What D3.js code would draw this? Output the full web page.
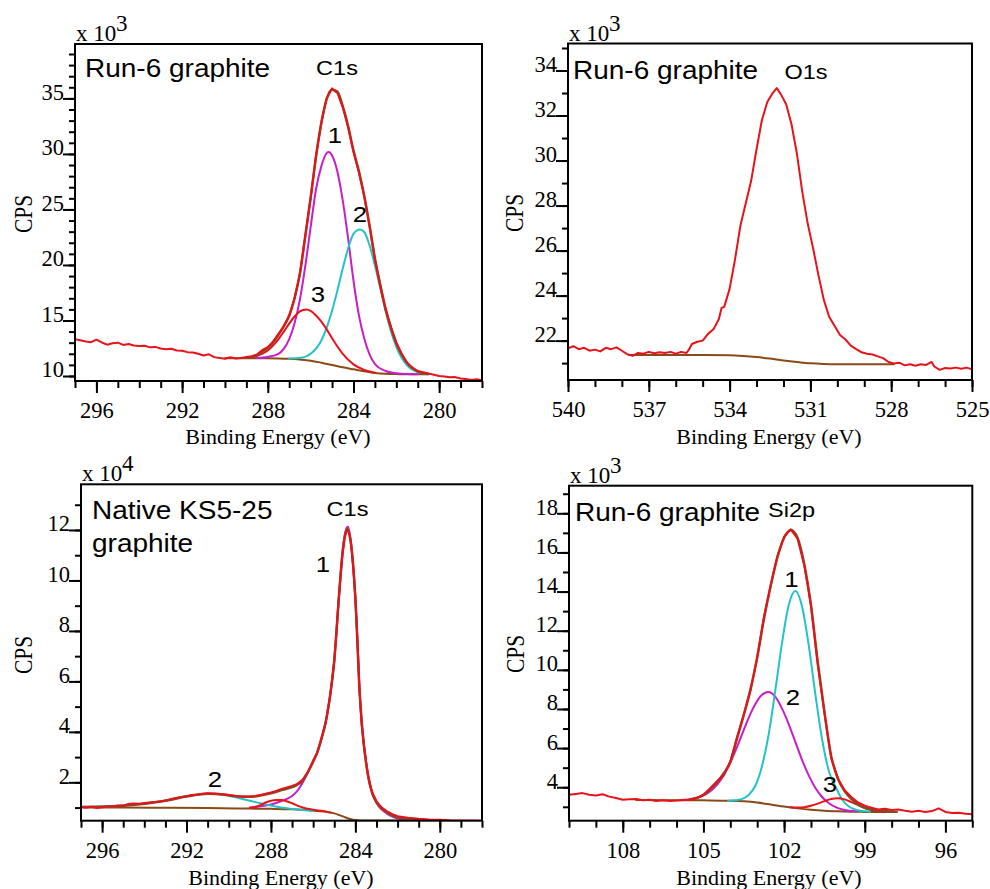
<!DOCTYPE html>
<html>
<head>
<meta charset="utf-8">
<script src="https://cdn.jsdelivr.net/npm/d3@7"></script>
<style>
  body { margin: 0; background: #fff; }
  svg { display: block; }
</style>
</head>
<body>
<div id="chart"></div>
<script>
// ---- data (CPS in units of the axis multiplier) ----
// Panel A: Run-6 graphite, C1s (x 10^3)
const c1sRunRaw = [[297.0,13.30],[296.75,13.22],[296.5,13.10],[296.25,13.05],[296.0,13.28],[295.75,13.02],[295.5,12.82],[295.25,12.95],[295.0,13.0],[294.75,12.8],[294.5,12.88],[294.25,12.75],[294.0,12.7],[293.75,12.72],[293.5,12.58],[293.25,12.62],[293.0,12.48],[292.75,12.4],[292.5,12.45],[292.25,12.3],[292.0,12.28],[291.75,12.15],[291.5,12.12],[291.25,12.0],[291.0,11.85],[290.75,11.95],[290.5,11.7],[290.25,11.62],[290.0,11.55],[289.75,11.7],[289.5,11.58],[289.25,11.62],[289.0,11.72],[288.75,11.78],[288.5,11.95],[288.25,12.35],[288.0,12.6],[287.75,13.1],[287.5,13.8],[287.25,14.5],[287.0,15.4],[286.75,17.0],[286.5,19.2],[286.25,22.6],[286.0,26.0],[285.75,29.8],[285.5,32.8],[285.25,35.0],[285.0,35.9],[284.9,35.7],[284.75,35.5],[284.5,34.2],[284.25,32.4],[284.0,30.2],[283.75,28.4],[283.5,26.2],[283.25,23.5],[283.0,20.5],[282.75,18.2],[282.5,16.0],[282.25,14.4],[282.0,13.0],[281.75,12.0],[281.5,11.2],[281.25,10.75],[281.0,10.45],[280.75,10.35],[280.5,10.22],[280.25,10.12],[280.0,10.0],[279.75,9.95],[279.5,9.88],[279.25,9.9],[279.0,9.78],[278.75,9.72],[278.5,9.65],[278.25,9.7],[278.0,9.62]];
const c1sRunEnv = [[289,11.64],[288.5,11.85],[288.25,12.2],[288,12.55],[287.75,13.05],[287.5,13.72],[287.25,14.5],[287,15.45],[286.75,17.0],[286.5,19.25],[286.25,22.6],[286,26.05],[285.75,29.75],[285.5,32.8],[285.25,34.95],[285,35.8],[284.75,35.6],[284.5,34.3],[284.25,32.5],[284,30.3],[283.75,28.45],[283.5,26.25],[283.25,23.55],[283,20.6],[282.75,18.2],[282.5,16.05],[282.25,14.35],[282,12.95],[281.75,11.95],[281.5,11.2],[281.25,10.72],[281,10.42],[280.75,10.25],[280.5,10.18]];
const c1sRunBg = [[290,11.59],[289,11.59],[288,11.59],[287.5,11.58],[287,11.55],[286.5,11.48],[286,11.38],[285.5,11.2],[285,10.99],[284.5,10.78],[284,10.6],[283.5,10.42],[283,10.28],[282.5,10.2],[282,10.17],[281.5,10.15],[281,10.15],[280.5,10.15]];
const c1sRunPeak1 = [[288.5,11.62],[288,11.72],[287.5,12.0],[287.25,12.47],[287,13.33],[286.75,14.75],[286.5,16.89],[286.25,19.9],[286,23.4],[285.75,26.8],[285.5,28.9],[285.25,30.07],[285.15,30.17],[285,29.85],[284.75,28.4],[284.5,25.8],[284.25,22.4],[284,18.6],[283.75,15.5],[283.5,13.4],[283.25,11.95],[283,11.08],[282.5,10.45],[282,10.25],[281.5,10.17],[281,10.15]];
const c1sRunPeak2 = [[287,11.58],[286.5,11.62],[286,12.0],[285.5,13.2],[285.25,14.35],[285,15.87],[284.75,17.71],[284.5,19.68],[284.25,21.49],[284,22.8],[283.7,23.2],[283.5,22.97],[283.25,21.78],[283,19.97],[282.75,17.89],[282.5,15.82],[282.25,14.03],[282,12.62],[281.5,10.95],[281,10.35],[280.5,10.19]];
const c1sRunPeak3 = [[289,11.64],[288.5,11.81],[288,12.3],[287.5,13.32],[287.25,14.0],[287,14.72],[286.75,15.36],[286.5,15.82],[286.2,16.0],[286,15.86],[285.75,15.45],[285.5,14.9],[285.25,14.2],[285,13.4],[284.5,12.0],[284,11.05],[283.5,10.55],[283,10.3]];

// Panel B: Run-6 graphite, O1s (x 10^3)
const o1sRaw = [[540.0,21.66],[539.8,21.75],[539.6,21.62],[539.4,21.68],[539.2,21.55],[539.0,21.6],[538.8,21.52],[538.6,21.68],[538.4,21.62],[538.2,21.7],[538.0,21.55],[537.8,21.4],[537.6,21.32],[537.4,21.45],[537.2,21.42],[537.0,21.5],[536.8,21.44],[536.6,21.48],[536.4,21.45],[536.2,21.5],[536.0,21.42],[535.8,21.5],[535.6,21.45],[535.5,21.62],[535.4,21.85],[535.2,21.95],[535.0,22.0],[534.8,22.3],[534.6,22.5],[534.4,22.95],[534.3,23.45],[534.2,23.5],[534.0,24.3],[533.8,25.6],[533.6,27.1],[533.4,28.1],[533.2,29.1],[533.0,30.5],[532.8,31.8],[532.6,32.6],[532.4,33.0],[532.25,33.22],[532.1,32.95],[531.9,32.5],[531.7,31.6],[531.5,30.3],[531.3,28.6],[531.1,27.2],[530.9,26.1],[530.7,24.9],[530.5,23.8],[530.3,23.05],[530.1,22.65],[529.9,22.25],[529.7,22.05],[529.5,21.78],[529.3,21.62],[529.1,21.48],[528.9,21.42],[528.7,21.38],[528.5,21.3],[528.3,21.22],[528.1,21.05],[527.9,20.98],[527.7,21.02],[527.5,20.9],[527.3,20.95],[527.1,20.88],[526.9,20.95],[526.7,20.92],[526.5,21.05],[526.4,20.85],[526.2,20.7],[526.0,20.78],[525.8,20.76],[525.6,20.8],[525.4,20.75],[525.2,20.8],[525.0,20.72]];
const o1sBg = [[537.75,21.36],[537,21.36],[536,21.36],[535,21.36],[534,21.35],[533.5,21.32],[533,21.27],[532.5,21.2],[532,21.12],[531.5,21.05],[531,20.99],[530.5,20.96],[530,20.95],[529,20.95],[528,20.95],[527.9,20.95]];

// Panel C: native KS5-25 graphite, C1s (x 10^4)
const c1sNatRaw = [[297.0,1.02],[296.75,1.0],[296.5,1.03],[296.25,0.98],[296.0,1.01],[295.75,1.04],[295.5,1.05],[295.25,1.08],[295.0,1.07],[294.75,1.14],[294.5,1.16],[294.25,1.15],[294.0,1.18],[293.75,1.2],[293.5,1.22],[293.25,1.24],[293.0,1.28],[292.75,1.33],[292.5,1.38],[292.25,1.42],[292.0,1.45],[291.75,1.5],[291.5,1.52],[291.25,1.55],[291.0,1.57],[290.75,1.56],[290.5,1.55],[290.25,1.53],[290.0,1.5],[289.75,1.47],[289.5,1.45],[289.25,1.44],[289.0,1.44],[288.75,1.46],[288.5,1.5],[288.25,1.55],[288.0,1.6],[287.75,1.66],[287.5,1.74],[287.25,1.8],[287.0,1.86],[286.75,1.94],[286.5,2.1],[286.25,2.42],[286.0,2.8],[285.8,3.2],[285.6,3.75],[285.4,4.4],[285.2,5.4],[285.0,6.8],[284.9,7.9],[284.8,9.1],[284.7,10.2],[284.6,11.1],[284.5,11.7],[284.4,12.0],[284.3,11.9],[284.2,11.4],[284.1,10.5],[284.0,9.3],[283.9,7.6],[283.8,5.6],[283.7,4.3],[283.6,3.5],[283.5,2.85],[283.4,2.3],[283.3,1.9],[283.2,1.6],[283.0,1.25],[282.75,1.0],[282.5,0.85],[282.25,0.74],[282.0,0.66],[281.5,0.6],[281.0,0.56],[280.5,0.53],[280.0,0.52],[279.5,0.5],[279.0,0.49],[278.5,0.49],[278.0,0.48]];
const c1sNatEnv = [[297,1.02],[295,1.07],[293,1.27],[292,1.44],[291,1.55],[290,1.49],[289.5,1.44],[289,1.43],[288.5,1.48],[288,1.57],[287.5,1.69],[287,1.81],[286.75,1.91],[286.5,2.07],[286.25,2.4],[286,2.84],[285.8,3.2],[285.6,3.76],[285.4,4.41],[285.2,5.42],[285,6.82],[284.8,9.12],[284.6,11.15],[284.4,12.05],[284.2,11.42],[284,9.3],[283.8,5.6],[283.6,3.5],[283.4,2.28],[283.2,1.57],[283,1.22],[282.5,0.82],[282,0.62],[281,0.53]];
const c1sNatBg = [[297,1.0],[295,1.0],[293,0.99],[291,0.98],[289,0.96],[288,0.95],[287,0.93],[286,0.88],[285.5,0.84],[285,0.77],[284.75,0.7],[284.5,0.62],[284.25,0.55],[284,0.51],[283.5,0.49],[282,0.49],[281,0.49]];
const c1sNatPeak1 = [[289,1.0],[288.5,1.05],[288,1.12],[287.5,1.26],[287,1.46],[286.75,1.66],[286.5,1.98],[286.25,2.4],[286,2.85],[285.8,3.2],[285.6,3.75],[285.4,4.4],[285.2,5.42],[285,6.82],[284.9,7.92],[284.8,9.12],[284.7,10.25],[284.6,11.2],[284.5,11.82],[284.4,12.1],[284.35,12.13],[284.3,12.0],[284.2,11.45],[284.1,10.5],[284,9.3],[283.9,7.6],[283.8,5.6],[283.7,4.3],[283.6,3.5],[283.5,2.85],[283.4,2.25],[283.3,1.85],[283.2,1.55],[283,1.18],[282.75,0.92],[282.5,0.76],[282.25,0.64],[282,0.57],[281.5,0.52],[281,0.5],[280.5,0.49]];
const c1sNatPeak2 = [[297,1.02],[296,1.03],[295,1.08],[294,1.16],[293,1.28],[292.5,1.37],[292,1.45],[291.5,1.51],[291,1.55],[290.5,1.54],[290,1.47],[289.5,1.37],[289,1.27],[288.5,1.17],[288,1.08],[287.5,1.0],[287,0.94],[286.5,0.9],[286,0.86]];
const c1sNatPeak3 = [[289,0.98],[288.75,1.02],[288.5,1.1],[288.25,1.2],[288,1.27],[287.75,1.3],[287.5,1.3],[287.25,1.25],[287,1.17],[286.75,1.08],[286.5,1.0],[286.25,0.95],[286,0.91],[285.5,0.86],[285.2,0.8]];

// Panel D: Run-6 graphite, Si2p (x 10^3)
const si2pRaw = [[110.0,3.61],[109.75,3.66],[109.5,3.7],[109.25,3.62],[109.0,3.58],[108.75,3.64],[108.5,3.52],[108.25,3.45],[108.0,3.36],[107.75,3.38],[107.5,3.4],[107.25,3.33],[107.0,3.36],[106.75,3.3],[106.5,3.33],[106.25,3.3],[106.0,3.32],[105.75,3.35],[105.5,3.36],[105.25,3.44],[105.0,3.62],[104.75,3.95],[104.5,4.3],[104.25,4.6],[104.0,5.3],[103.75,6.55],[103.5,7.7],[103.25,8.95],[103.0,10.6],[102.75,12.7],[102.5,14.3],[102.25,15.8],[102.0,16.8],[101.75,17.18],[101.5,16.7],[101.25,15.35],[101.0,13.3],[100.75,10.3],[100.5,7.8],[100.25,5.5],[100.0,4.45],[99.75,3.85],[99.5,3.5],[99.25,3.22],[99.0,3.06],[98.75,2.95],[98.5,2.86],[98.25,2.9],[98.0,2.84],[97.75,2.86],[97.5,2.8],[97.25,2.75],[97.0,2.8],[96.75,2.74],[96.5,2.78],[96.25,2.92],[96.0,2.74],[95.75,2.68],[95.5,2.7],[95.25,2.64],[95.0,2.62]];
const si2pEnv = [[105.5,3.38],[105,3.6],[104.75,3.9],[104.5,4.25],[104.25,4.7],[104,5.3],[103.75,6.5],[103.5,7.7],[103.25,9.0],[103,10.65],[102.75,12.6],[102.5,14.3],[102.25,15.75],[102,16.75],[101.75,17.15],[101.5,16.75],[101.25,15.4],[101,13.3],[100.75,10.4],[100.5,7.85],[100.25,5.6],[100,4.45],[99.75,3.8],[99.5,3.4],[99.25,3.12],[99,2.95],[98.5,2.82],[98,2.75]];
const si2pBg = [[107.5,3.35],[106,3.34],[105,3.33],[104,3.31],[103.5,3.28],[103,3.22],[102.5,3.12],[102,3.01],[101.5,2.92],[101,2.85],[100.5,2.8],[100,2.77],[99.5,2.75],[99,2.74],[98,2.73],[97.8,2.73]];
const si2pPeak1 = [[104.08,3.31],[103.83,3.33],[103.58,3.39],[103.33,3.59],[103.08,4.05],[102.83,5.04],[102.58,6.65],[102.33,8.92],[102.08,11.35],[101.83,13.3],[101.58,14.03],[101.33,13.22],[101.08,11.21],[100.83,8.68],[100.58,6.4],[100.33,4.8],[100.08,4.0],[99.83,3.35],[99.58,3.0],[99.33,2.85],[99.08,2.78],[98.8,2.75]];
const si2pPeak2 = [[105.83,3.35],[105.58,3.38],[105.33,3.43],[105.08,3.54],[104.83,3.71],[104.58,4.0],[104.33,4.43],[104.08,5.03],[103.83,5.79],[103.58,6.65],[103.33,7.51],[103.08,8.23],[102.83,8.72],[102.58,8.87],[102.33,8.63],[102.08,8.03],[101.83,7.23],[101.58,6.31],[101.33,5.39],[101.08,4.59],[100.83,3.95],[100.58,3.49],[100.33,3.18],[100.08,2.98],[99.83,2.86],[99.58,2.8],[99.33,2.77]];
const si2pPeak3 = [[101.75,2.98],[101.5,2.96],[101.25,2.98],[101.0,3.05],[100.75,3.16],[100.5,3.29],[100.25,3.4],[100.0,3.44],[99.75,3.38],[99.5,3.24],[99.25,3.09],[99.0,2.94],[98.75,2.84],[98.5,2.77],[98.25,2.74]];

// tick labels
const c1sRunXTicks = [296, 292, 288, 284, 280];
const c1sRunYTicks = [10, 15, 20, 25, 30, 35];
const o1sXTicks = [540, 537, 534, 531, 528, 525];
const o1sYTicks = [22, 24, 26, 28, 30, 32, 34];
const c1sNatXTicks = [296, 292, 288, 284, 280];
const c1sNatYTicks = [2, 4, 6, 8, 10, 12];
const si2pXTicks = [108, 105, 102, 99, 96];
const si2pYTicks = [4, 6, 8, 10, 12, 14, 16, 18];

const SERIF = "'Liberation Serif', 'Times New Roman', serif";
const SANS = "'Liberation Sans', Arial, sans-serif";
const RED = "#e8121b", MAGENTA = "#c81ec8", CYAN = "#22c3c8", BROWN = "#8a4a18", ENV = "#7a5022";

const svg = d3.select("#chart").append("svg")
    .attr("width", 990)
    .attr("height", 889)
    .style("background", "#fff");

function styleAxis(sel) {
  sel.select(".domain").remove();
  sel.selectAll("line").attr("stroke", "#000").attr("stroke-width", 2);
  sel.attr("font-family", SERIF).attr("font-size", 22.5);
  sel.selectAll("text").attr("fill", "#000");
}

function sans(g, px, py, s, size, anchor) {
  g.append("text")
      .attr("transform", "translate(" + px + "," + py + ") scale(1.12,1)")
      .attr("text-anchor", anchor || "start")
      .attr("font-family", SANS)
      .attr("font-size", size)
      .attr("fill", "#000")
      .text(s);
}

function drawPanel(p) {
  var L = p.box[0], T = p.box[1], R = p.box[2], B = p.box[3];
  var x = d3.scaleLinear().domain(p.xDomain).range([L, R]);
  var y = d3.scaleLinear().domain(p.yDomain).range([B, T]);
  var g = svg.append("g");

  g.append("clipPath").attr("id", "clip-" + p.id)
    .append("rect").attr("x", L).attr("y", T).attr("width", R - L).attr("height", B - T);

  // x axis: minor then major ticks
  g.append("g").attr("transform", "translate(0," + B + ")")
      .call(d3.axisBottom(x).tickValues(p.xMinor).tickSize(7).tickFormat(""))
      .call(styleAxis);
  g.append("g").attr("transform", "translate(0," + B + ")")
      .call(d3.axisBottom(x).tickValues(p.xMajor).tickSize(12).tickFormat(d3.format("d")))
      .call(styleAxis)
      .call(function(s) { s.selectAll("text").attr("y", 37).attr("dy", null); });

  // y axis
  g.append("g").attr("transform", "translate(" + L + ",0)")
      .call(d3.axisLeft(y).tickValues(p.yMinor).tickSize(6).tickFormat(""))
      .call(styleAxis);
  g.append("g").attr("transform", "translate(" + L + ",0)")
      .call(d3.axisLeft(y).tickValues(p.yMajor).tickSize(12).tickPadding(0).tickFormat(d3.format("d")))
      .call(styleAxis)
      .call(function(s) { s.selectAll("text").attr("x", -11).attr("dy", "0.04em"); });

  // curves
  var plot = g.append("g").attr("clip-path", "url(#clip-" + p.id + ")");
  p.series.forEach(function(s) {
    var line = d3.line()
        .curve(s.smooth ? d3.curveMonotoneX : d3.curveLinear)
        .x(function(d) { return x(d[0]); })
        .y(function(d) { return y(d[1]); });
    plot.append("path").datum(s.data)
        .attr("fill", "none")
        .attr("stroke", s.color)
        .attr("stroke-width", s.width)
        .attr("stroke-linejoin", "round")
        .attr("stroke-linecap", "round")
        .attr("d", line);
  });

  // frame
  g.append("rect")
      .attr("x", L).attr("y", T).attr("width", R - L).attr("height", B - T)
      .attr("fill", "none").attr("stroke", "#000").attr("stroke-width", 2);

  // exponent "x 10^n"
  g.append("text").attr("x", L + 1).attr("y", T - 3)
      .attr("font-family", SERIF).attr("font-size", 23).attr("fill", "#000")
      .text("x 10");
  g.append("text").attr("x", L + 41).attr("y", T - 13)
      .attr("font-family", SERIF).attr("font-size", 23).attr("fill", "#000")
      .text(p.exponent);

  // axis titles
  g.append("text")
      .attr("transform", "translate(" + p.cps[0] + "," + p.cps[1] + ") rotate(-90) scale(1,1.22)")
      .attr("text-anchor", "middle").attr("dy", "0.33em")
      .attr("font-family", SERIF).attr("font-size", 21.5).attr("fill", "#000")
      .text("CPS");
  g.append("text")
      .attr("x", p.xTitle[0]).attr("y", p.xTitle[1])
      .attr("text-anchor", "middle")
      .attr("font-family", SERIF).attr("font-size", 22).attr("fill", "#000")
      .text("Binding Energy (eV)");

  p.labels.forEach(function(l) { sans(g, l[0], l[1], l[2], l[3], l[4]); });
}

function fitSeries(raw, env, bg, peaks) {
  var list = [{ data: bg, color: BROWN, width: 2, smooth: true }];
  peaks.forEach(function(pk) { list.push({ data: pk[0], color: pk[1], width: 2, smooth: true }); });
  if (env) list.push({ data: env, color: ENV, width: 2.5, smooth: true });
  list.push({ data: raw, color: RED, width: 2, smooth: false });
  return list;
}

drawPanel({
  id: "a", box: [75, 44, 482, 381],
  xDomain: [297, 278], yDomain: [9.55, 39.9],
  xMajor: c1sRunXTicks, xMinor: d3.range(278, 298),
  yMajor: c1sRunYTicks, yMinor: d3.range(10, 40),
  exponent: "3", cps: [23, 214], xTitle: [278, 444],
  series: fitSeries(c1sRunRaw, c1sRunEnv, c1sRunBg,
      [[c1sRunPeak1, MAGENTA], [c1sRunPeak2, CYAN], [c1sRunPeak3, RED]]),
  labels: [[85, 77, "Run-6 graphite", 25], [337, 75, "C1s", 21, "middle"],
           [335, 143, "1", 23, "middle"], [360, 222, "2", 23, "middle"], [318, 302, "3", 23, "middle"]]
});

drawPanel({
  id: "b", box: [568, 43.5, 972, 380],
  xDomain: [540, 525], yDomain: [20.25, 35.2],
  xMajor: o1sXTicks, xMinor: d3.range(525, 541),
  yMajor: o1sYTicks, yMinor: d3.range(21, 36),
  exponent: "3", cps: [514, 213], xTitle: [769, 444],
  series: fitSeries(o1sRaw, null, o1sBg, []),
  labels: [[573, 79, "Run-6 graphite", 25], [806, 79, "O1s", 21, "middle"]]
});

drawPanel({
  id: "c", box: [81, 484.3, 482, 820.7],
  xDomain: [297, 278], yDomain: [0.48, 13.81],
  xMajor: c1sNatXTicks, xMinor: d3.range(278, 298),
  yMajor: c1sNatYTicks, yMinor: d3.range(1, 14),
  exponent: "4", cps: [23.5, 655], xTitle: [281, 885],
  series: fitSeries(c1sNatRaw, c1sNatEnv, c1sNatBg,
      [[c1sNatPeak1, MAGENTA], [c1sNatPeak2, CYAN], [c1sNatPeak3, RED]]),
  labels: [[92, 519, "Native KS5-25", 25], [92, 551.5, "graphite", 25], [347.5, 516, "C1s", 21, "middle"],
           [323, 571.5, "1", 23, "middle"], [215, 787, "2", 23, "middle"]]
});

drawPanel({
  id: "d", box: [569, 485.7, 972.3, 820.7],
  xDomain: [110, 95], yDomain: [2.29, 19.41],
  xMajor: si2pXTicks, xMinor: d3.range(95, 111),
  yMajor: si2pYTicks, yMinor: d3.range(3, 20),
  exponent: "3", cps: [515.5, 654], xTitle: [769, 885],
  series: fitSeries(si2pRaw, si2pEnv, si2pBg,
      [[si2pPeak2, MAGENTA], [si2pPeak1, CYAN], [si2pPeak3, RED]]),
  labels: [[575, 520.5, "Run-6 graphite", 25], [768, 517, "Si2p", 21],
           [791.5, 586.5, "1", 23, "middle"], [793, 705, "2", 23, "middle"], [830, 791.5, "3", 23, "middle"]]
});
</script>
</body>
</html>
